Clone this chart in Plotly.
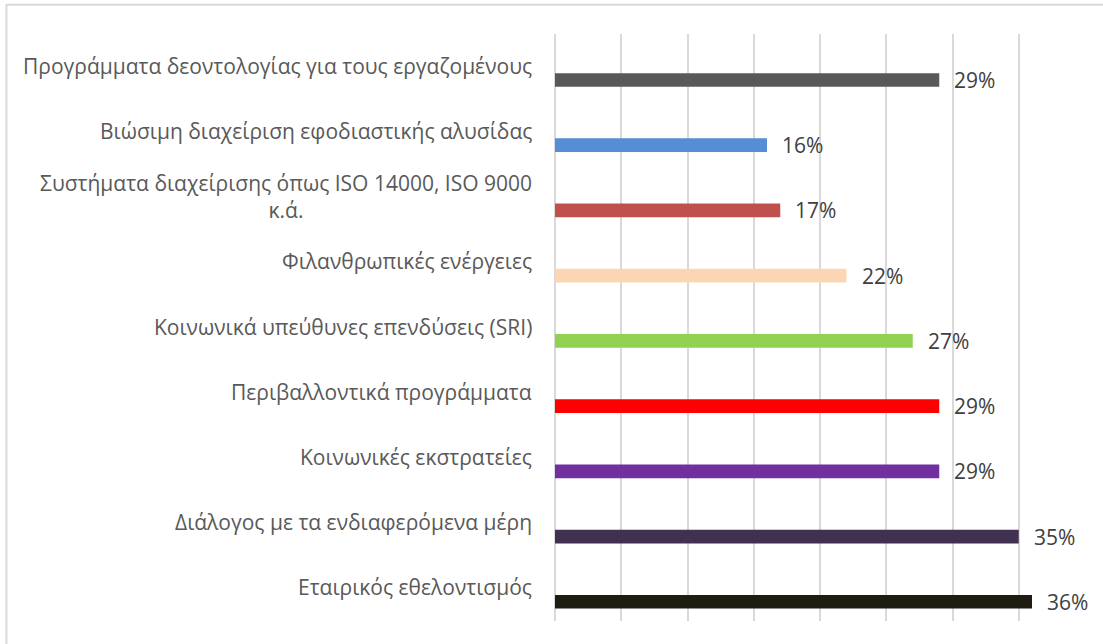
import plotly.graph_objects as go

categories = [
    "Προγράμματα δεοντολογίας για τους εργαζομένους",
    "Βιώσιμη διαχείριση εφοδιαστικής αλυσίδας",
    "Συστήματα διαχείρισης όπως ISO 14000, ISO 9000<br>κ.ά.",
    "Φιλανθρωπικές ενέργειες",
    "Κοινωνικά υπεύθυνες επενδύσεις (SRI)",
    "Περιβαλλοντικά προγράμματα",
    "Κοινωνικές εκστρατείες",
    "Διάλογος με τα ενδιαφερόμενα μέρη",
    "Εταιρικός εθελοντισμός",
]
values = [29, 16, 17, 22, 27, 29, 29, 35, 36]
colors = ["#595959", "#558ED5", "#C0504D", "#FCD5B5", "#92D050",
          "#FF0000", "#7030A0", "#403151", "#1F1C12"]

FONT = "Open Sans"
BAR_OFFSET = 0.1
BAR_WIDTH = 0.21

fig = go.Figure()
fig.add_trace(go.Bar(
    x=values,
    y=list(range(len(categories))),
    orientation="h",
    marker=dict(color=colors, line=dict(width=0)),
    offset=BAR_OFFSET,
    width=BAR_WIDTH,
    hoverinfo="skip",
    showlegend=False,
))

annotations = []
for i, (cat, v) in enumerate(zip(categories, values)):
    annotations.append(dict(
        x=v, y=i + BAR_OFFSET + BAR_WIDTH / 2, xref="x", yref="y",
        text=f"{v}%", showarrow=False, xanchor="left", yanchor="middle",
        xshift=13, font=dict(family=FONT, size=21, color="#404040"),
    ))
    annotations.append(dict(
        x=0, y=i, xref="paper", yref="y",
        text=cat, showarrow=False, xanchor="right", yanchor="middle",
        align="center", xshift=-21, yshift=1,
        font=dict(family=FONT, size=21, color="#595959"),
    ))

fig.update_layout(
    width=1103, height=644,
    margin=dict(l=555, r=18, t=34, b=23),
    paper_bgcolor="white", plot_bgcolor="white",
    annotations=annotations,
    shapes=[dict(type="rect", xref="paper", yref="paper",
                 x0=-1.035, x1=1.2, y0=-0.2, y1=1.05,
                 line=dict(color="#D9D9D9", width=2), layer="below")],
    xaxis=dict(range=[0, 40], dtick=5, showgrid=True, gridcolor="#D9D9D9",
               gridwidth=1.5, zeroline=True, zerolinecolor="#D9D9D9",
               zerolinewidth=1.5, showticklabels=False, ticks="",
               showline=False, fixedrange=True),
    yaxis=dict(range=[len(categories) - 0.5, -0.5], showticklabels=False,
               showgrid=False, zeroline=False, showline=False, ticks="",
               fixedrange=True),
)

fig.write_html("out.html", config={"displayModeBar": False},
               post_script="document.body.style.margin='0';")
